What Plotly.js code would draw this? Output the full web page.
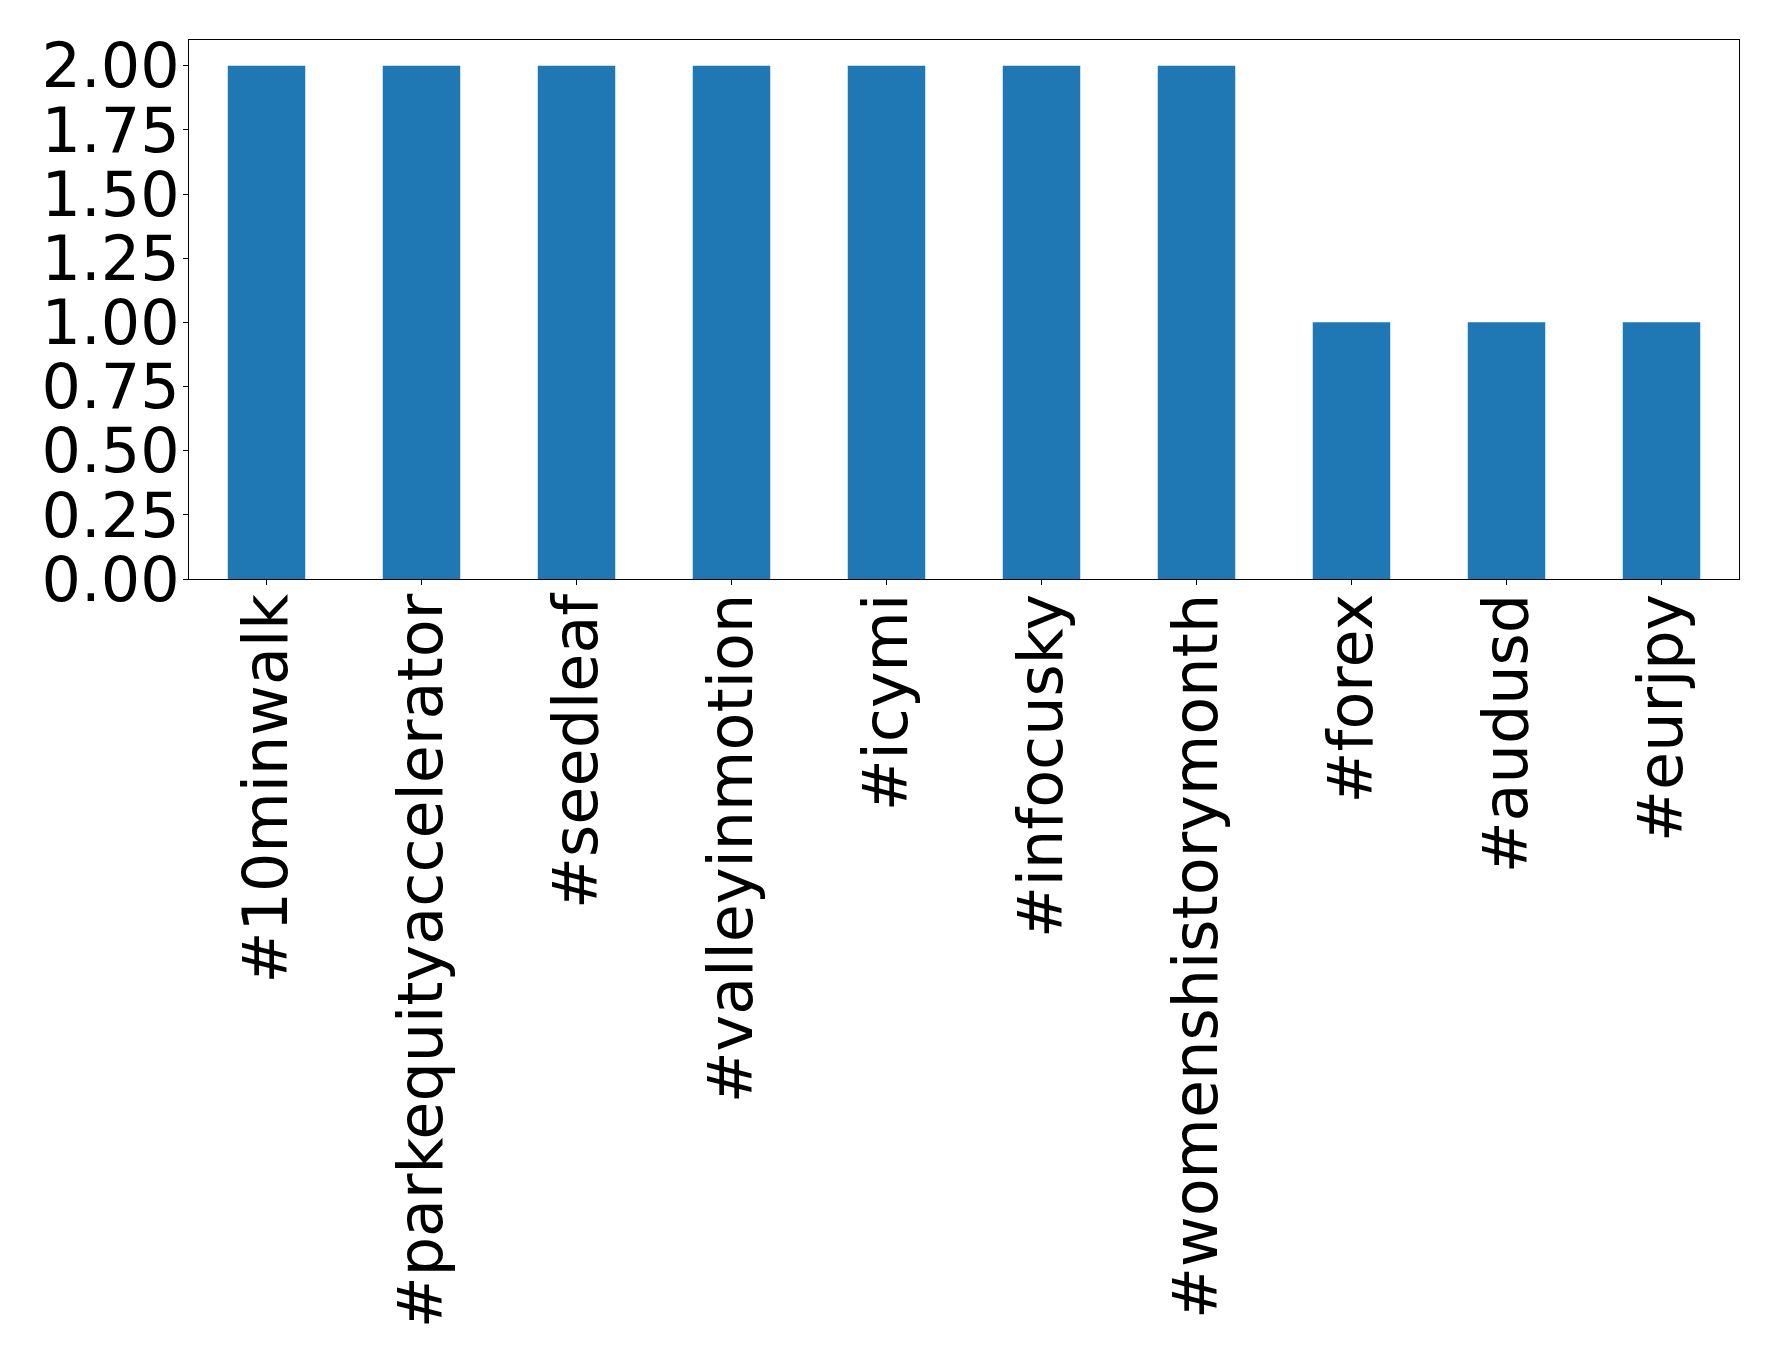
<!DOCTYPE html>
<html>
<head>
<meta charset="utf-8">
<script src="https://cdn.plot.ly/plotly-3.0.1.min.js"></script>
<style>html,body{margin:0;padding:0;background:#fff;}#chart{width:1778px;height:1369px;}</style>
</head>
<body>
<div id="chart"></div>
<script>
const categories = ["#10minwalk", "#parkequityaccelerator", "#seedleaf", "#valleyinmotion", "#icymi", "#infocusky", "#womenshistorymonth", "#forex", "#audusd", "#eurjpy"];
const counts = [2, 2, 2, 2, 2, 2, 2, 1, 1, 1];
const yTickValues = [0, 0.25, 0.5, 0.75, 1.0, 1.25, 1.5, 1.75, 2.0];

const trace = {
  type: 'bar',
  x: categories,
  y: counts,
  width: 0.5,
  marker: {color: '#1f77b4', line: {width: 0}},
  hoverinfo: 'x+y'
};

const axisFont = {family: 'DejaVu Sans, sans-serif', size: 62, color: '#000'};

const layout = {
  width: 1778,
  height: 1369,
  margin: {l: 189, r: 39, t: 40, b: 790, pad: 0},
  paper_bgcolor: '#fff',
  plot_bgcolor: '#fff',
  showlegend: false,
  bargap: 0.5,
  xaxis: {
    type: 'category',
    range: [-0.5, 9.5],
    tickangle: -90,
    tickfont: axisFont,
    ticks: 'outside',
    ticklen: 5,
    tickwidth: 1,
    tickcolor: '#000',
    ticklabelstandoff: -16,
    showline: true,
    linecolor: '#000',
    linewidth: 1,
    mirror: true,
    showgrid: false,
    zeroline: false,
    automargin: false
  },
  yaxis: {
    range: [0, 2.1],
    tickmode: 'array',
    tickvals: yTickValues,
    ticktext: yTickValues.map(v => v.toFixed(2)),
    tickfont: axisFont,
    ticks: 'outside',
    ticklen: 5,
    tickwidth: 1,
    tickcolor: '#000',
    ticklabelstandoff: -9,
    showline: true,
    linecolor: '#000',
    linewidth: 1,
    mirror: true,
    showgrid: false,
    zeroline: false,
    automargin: false
  }
};

Plotly.newPlot('chart', [trace], layout, {displayModeBar: false, staticPlot: true});
</script>
</body>
</html>
